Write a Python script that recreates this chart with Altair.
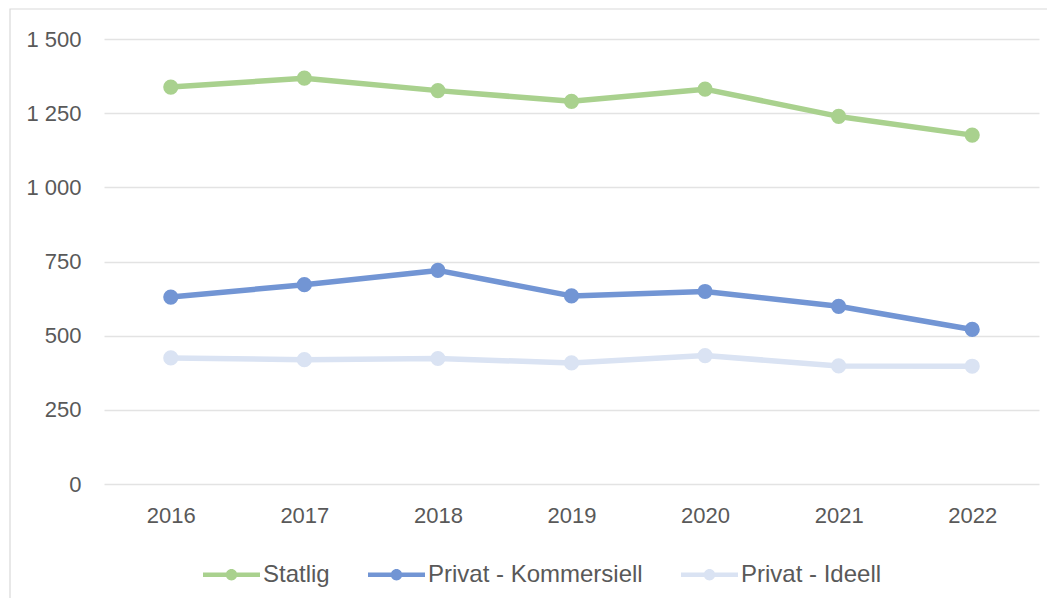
import altair as alt
import pandas as pd

years = ["2016", "2017", "2018", "2019", "2020", "2021", "2022"]
series = ["Statlig", "Privat - Kommersiell", "Privat - Ideell"]
statlig = [1338, 1368, 1326, 1290, 1331, 1239, 1176]
kommersiell = [630, 672, 720, 634, 649, 599, 521]
ideell = [425, 419, 423, 408, 433, 398, 397]
colors = ["#A9D18E", "#7295D4", "#DAE3F3"]
y_ticks = [0, 250, 500, 750, 1000, 1250, 1500]

rows = []
for name, vals in zip(series, [statlig, kommersiell, ideell]):
    for yr, v in zip(years, vals):
        rows.append({"Year": yr, "Series": name, "Value": v})
df = pd.DataFrame(rows)

FONT = "Liberation Sans"
TXT = "#595959"
# line-with-dot legend symbol (unit coordinates)
SYMBOL = ("M-1,-0.08L1,-0.08L1,0.08L-1,0.08Z "
          "M-0.2,0A0.2,0.2 0 1,1 0.2,0A0.2,0.2 0 1,1 -0.2,0Z")

x_enc = alt.X("Year:N", sort=years, title=None,
              scale=alt.Scale(type="point", padding=0.5),
              axis=alt.Axis(labelAngle=0, labelFont=FONT, labelFontSize=22,
                            labelColor=TXT, labelPadding=21, ticks=False,
                            domain=False, grid=False))
y_enc = alt.Y("Value:Q", title=None,
              scale=alt.Scale(domain=[0, 1500], nice=False),
              axis=alt.Axis(values=y_ticks, labelFont=FONT, labelFontSize=22,
                            labelColor=TXT, labelPadding=23, ticks=False,
                            domain=False, grid=True, gridColor="#E3E3E3",
                            gridWidth=1.3,
                            labelExpr="replace(format(datum.value, ','), ',', ' ')"))
color_scale = alt.Scale(domain=series, range=colors)

legend = alt.Legend(orient="none", legendX=99, legendY=507,
                    direction="horizontal", columns=3,
                    title=None, symbolType=SYMBOL,
                    symbolSize=3249, symbolStrokeWidth=0,
                    symbolOpacity=1,
                    labelFont=FONT, labelFontSize=24, labelLimit=500,
                    labelColor=TXT, labelOffset=3,
                    columnPadding=38, padding=0)
color_enc = alt.Color("Series:N", scale=color_scale, sort=series, legend=legend)

lines = alt.Chart(df).mark_line(strokeWidth=5.5, strokeJoin="round").encode(
    x=x_enc, y=y_enc, color=color_enc,
)

points = alt.Chart(df).mark_point(filled=True, size=230, opacity=1, shape="circle").encode(
    x=x_enc, y=y_enc, color=color_enc,
)

border = alt.Chart(pd.DataFrame({"b": [0]})).mark_rect(
    fill="white", fillOpacity=0, stroke="#D9D9D9", strokeWidth=1.2
).encode(x=alt.value(-94), x2=alt.value(1300), y=alt.value(-30), y2=alt.value(900))

chart = alt.layer(border, lines, points).properties(
    width=935, height=445,
    background="white",
    padding={"left": 96, "top": 31, "right": 8, "bottom": 114},
    autosize=alt.AutoSizeParams(type="none"),
).configure_view(strokeWidth=0)

chart.save("out.html", embed_options={"renderer": "svg", "actions": False})
